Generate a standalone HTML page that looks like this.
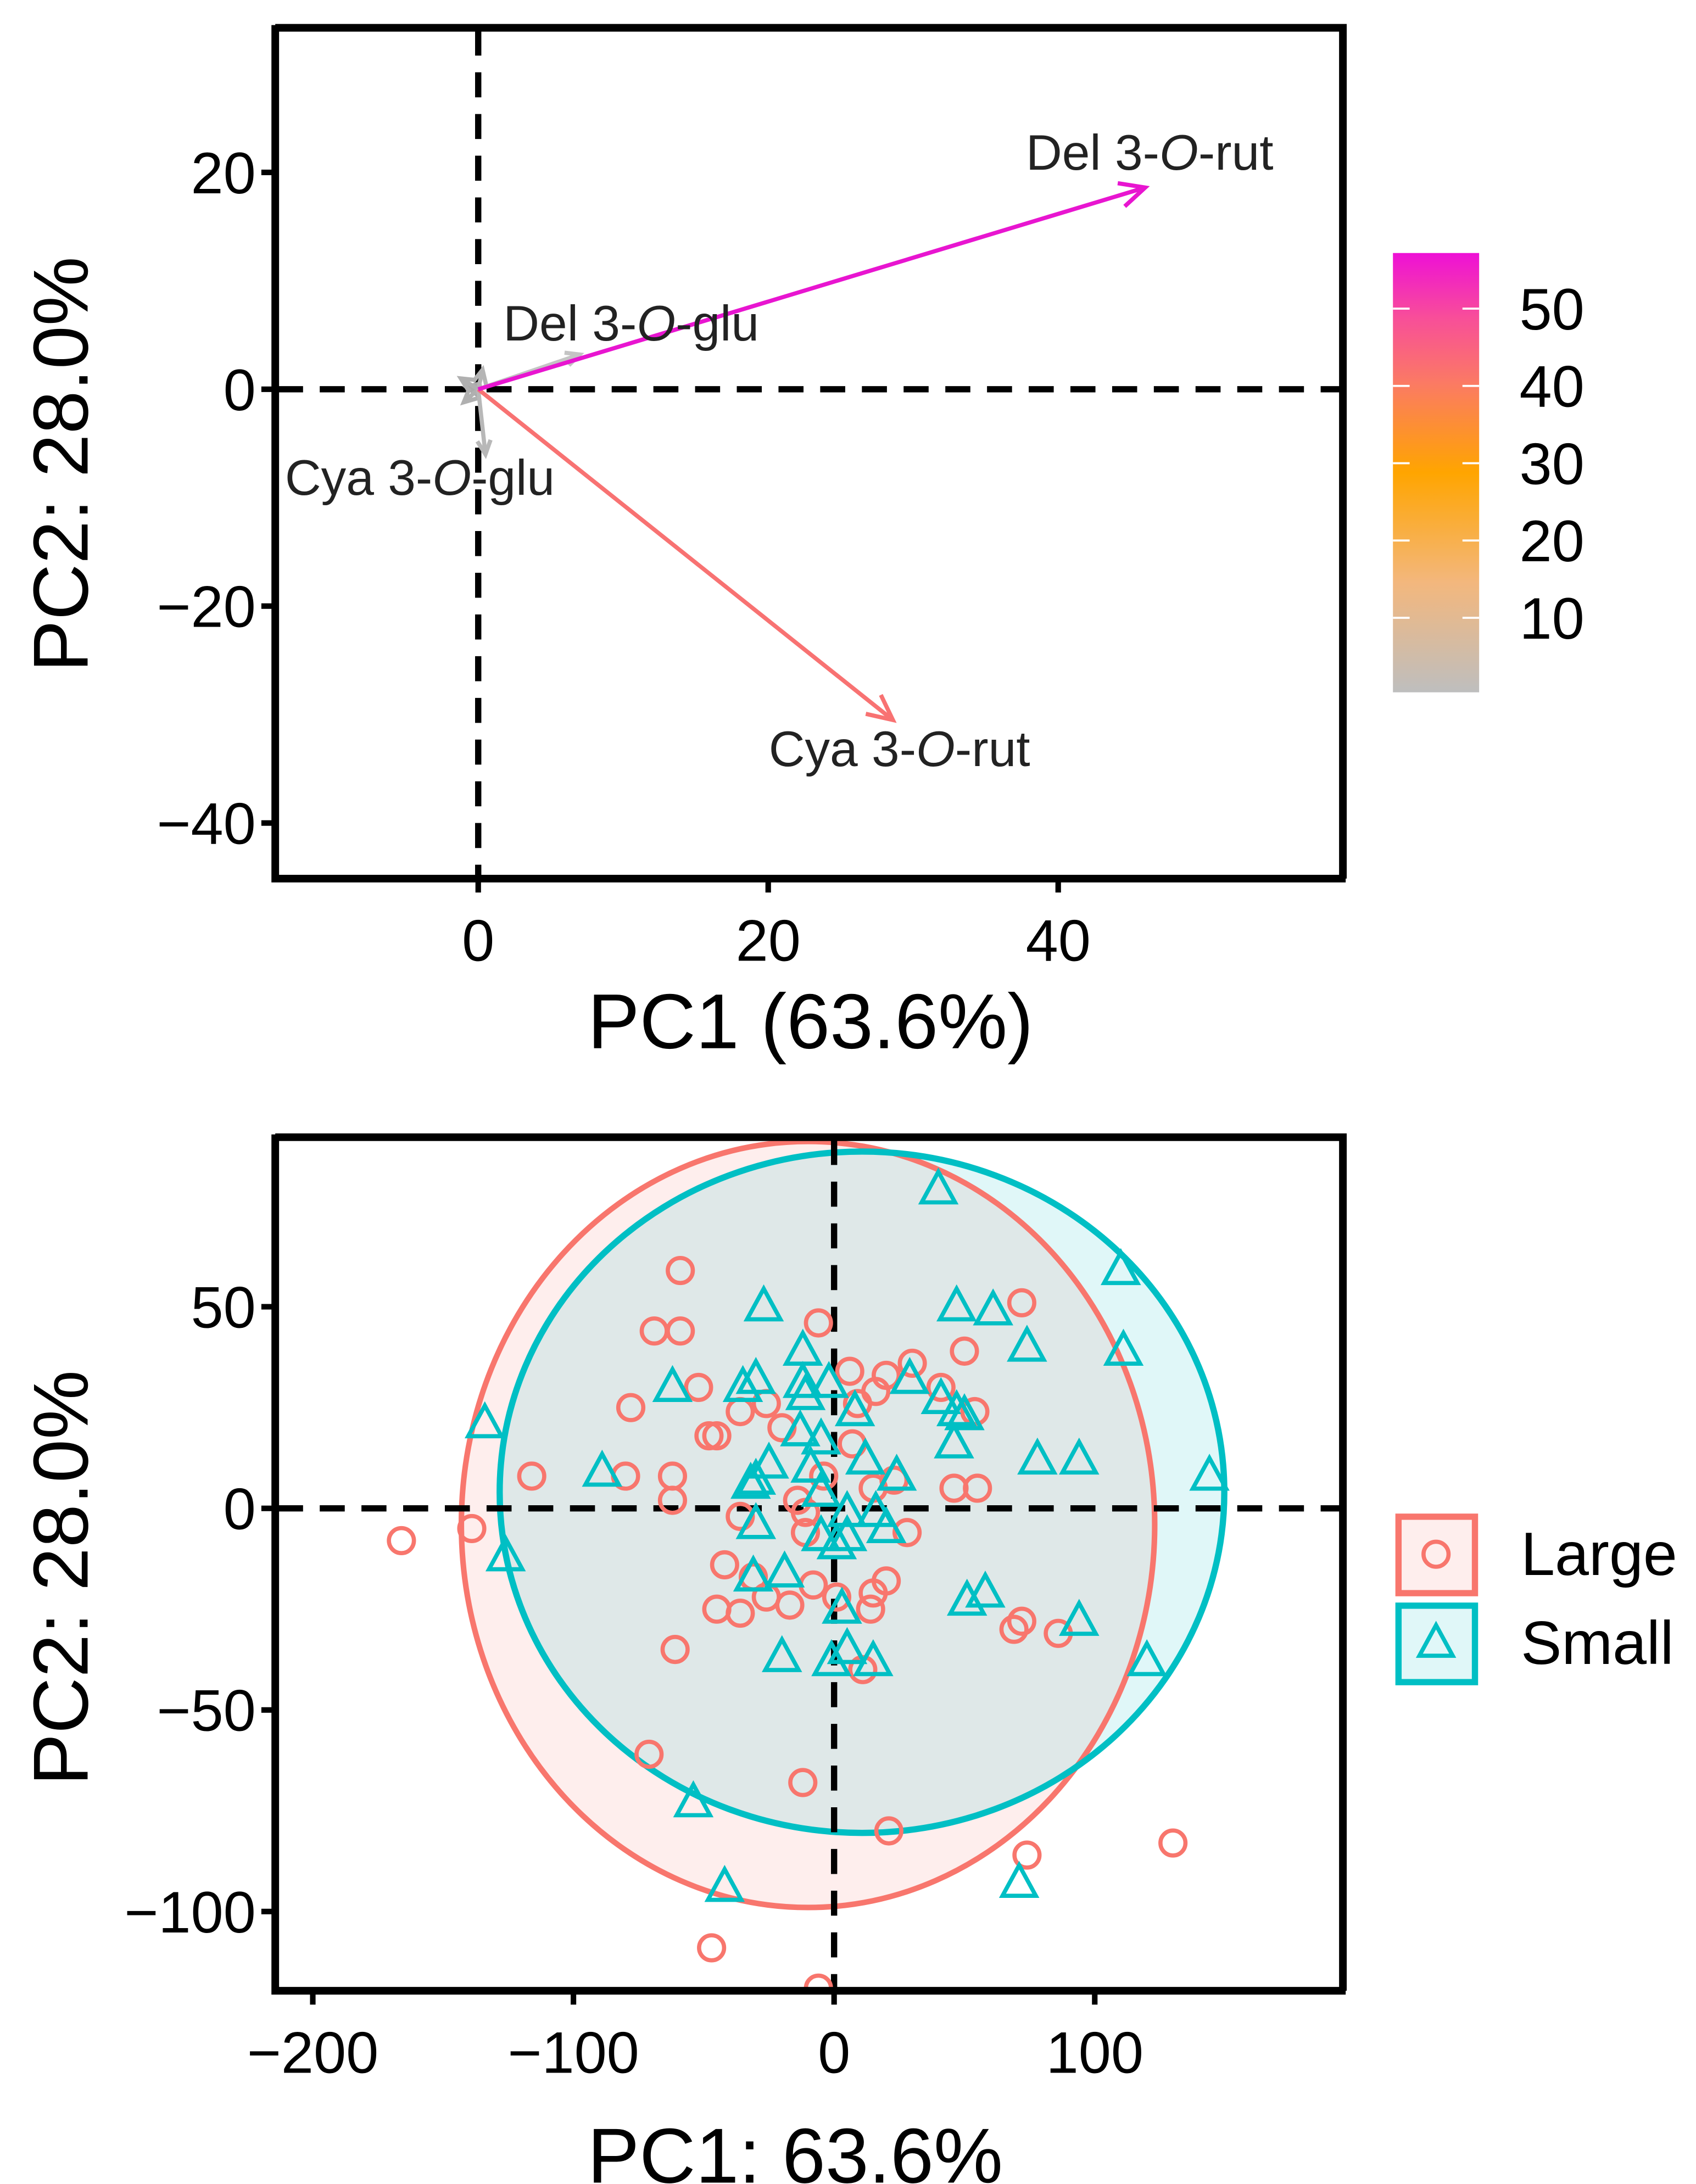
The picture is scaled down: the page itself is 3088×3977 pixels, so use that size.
<!DOCTYPE html>
<html><head><meta charset="utf-8"><style>
html,body{margin:0;padding:0;background:#fff;}
svg{display:block;font-family:"Liberation Sans",Arial,sans-serif;}
</style></head><body>
<svg id="chart" width="3088" height="3977" viewBox="0 0 1220 1571" preserveAspectRatio="none" xmlns="http://www.w3.org/2000/svg">
<defs>
<linearGradient id="cbar" x1="0" y1="1" x2="0" y2="0">
<stop offset="0" stop-color="#bebebe"/>
<stop offset="0.25" stop-color="#f3b77d"/>
<stop offset="0.5" stop-color="#ffa500"/>
<stop offset="0.7" stop-color="#fb7b62"/>
<stop offset="0.85" stop-color="#f84f98"/>
<stop offset="1" stop-color="#ee10d6"/>
</linearGradient>
<clipPath id="clipBot"><rect x="198" y="818" width="770" height="614"/></clipPath>
</defs>
<g id="topPanel"></g>
<g id="botPanel"></g>
</svg>
<script>
// ---- top panel data ----
const varNames = ["Del 3-O-rut","Cya 3-O-rut","Del 3-O-glu","Cya 3-O-glu","minor-1","minor-2","minor-3","minor-4"];
const varPC1 = [46, 28.6, 7, 0.5, -1.2, -1, 0.3, -0.8];
const varPC2 = [18.6, -30.5, 3.2, -6, 1, -1.2, 1.8, 0.2];
const varColor = ["#e815d0","#f87272","#c4c4c4","#b8b8b8","#b0b0b0","#b0b0b0","#b5b5b5","#aaaaaa"];
const topXTicks = [0,20,40];
const topYTicks = [20,0,-20,-40];
const cbarTicks = [10,20,30,40,50];
// ---- bottom panel data ----
const largeX = [-166,-139,-116,-80,-78,-69,-59,-59,-62,-62,-52,-48,-45,-36,-36,-26,-20,-14,-11,-11,-6,-4,6,9,7,15,20,30,16,23,28,41,50,54,46,55,72,-42,-31,-26,-17,-45,-36,-8,1,14,15,20,-61,11,69,72,86,-71,-12,21,74,130,-47,-6];
const largeY = [-8,-5,8,8,25,44,44,59,8,2,30,18,18,-2,24,26,20,2,-1,-6,46,8,34,26,16,5,33,36,29,7,-6,30,39,24,5,5,51,-14,-17,-22,-24,-25,-26,-19,-22,-25,-21,-18,-35,-40,-30,-28,-31,-61,-68,-80,-86,-83,-109,-119];
const smallX = [40,110,111,47,61,74,-27,-12,-62,-30,-35,-12,-11,-2,29,41,47,50,8,-13,-5,46,-25,-32,-30,-9,12,24,78,94,144,-89,-134,-126,-30,-5,5,16,20,-5,1,5,-31,-19,3,51,58,94,-20,-1,5,15,120,-54,-42,71];
const smallY = [79,59,39,50,49,40,50,39,30,32,30,31,28,31,32,27,24,23,24,19,17,16,11,6,7,10,12,8,12,12,8,9,21,-12,-4,4,-1,-1,-5,-7,-9,-7,-17,-16,-25,-23,-21,-28,-37,-38,-35,-38,-38,-73,-94,-93];
const ellipseCX = [-10, 10.7];
const ellipseCY = [-4, 4];
const ellipseRX = [133, 139];
const ellipseRY = [95, 84.5];
const botXTicks = [-200,-100,0,100];
const botYTicks = [50,0,-50,-100];

const NS="http://www.w3.org/2000/svg";
function mk(tag,attrs,parent){const e=document.createElementNS(NS,tag);for(const k in attrs)e.setAttribute(k,attrs[k]);parent.appendChild(e);return e;}
const topG=document.getElementById('topPanel'), botG=document.getElementById('botPanel');

const tx=v=>344+v*10.43, ty=v=>280-v*7.8;
const bx=v=>600+v*1.875, by=v=>1085-v*2.9;
const cbY=v=>500-v*5.56;
const TICK=42, TITLE=56, DASH='18 12', DW=4.5;

let e;
e=mk('line',{x1:344,y1:22,x2:344,y2:630,stroke:'#000','stroke-width':DW,'stroke-dasharray':DASH},topG);


e=mk('line',{x1:200,y1:280,x2:966,y2:280,stroke:'#000','stroke-width':DW,'stroke-dasharray':DASH},topG);


for(let i=varNames.length-1;i>=0;i--){
  const x2=tx(varPC1[i]),y2=ty(varPC2[i]),x1=tx(0),y1=ty(0);
  const g=mk('g',{},topG);
  
  
  mk('line',{x1:x1,y1:y1,x2:x2,y2:y2,stroke:varColor[i],'stroke-width':i<2?3:3},g);
  const a=Math.atan2(y2-y1,x2-x1),L=i<2?20:11,w=0.45;
  mk('polyline',{points:`${x2-L*Math.cos(a-w)},${y2-L*Math.sin(a-w)} ${x2},${y2} ${x2-L*Math.cos(a+w)},${y2-L*Math.sin(a+w)}`,fill:'none',stroke:varColor[i],'stroke-width':3},g);
}
const labPos=[[738,122],[553,551],[362,245],[205,356]];
for(let i=0;i<4;i++){
  const parts=varNames[i].split('O');
  e=mk('text',{x:labPos[i][0],y:labPos[i][1],'font-size':36,fill:'#222'},topG);
  
  
  e.appendChild(document.createTextNode(parts[0]));
  const it=mk('tspan',{'font-style':'italic'},e);it.textContent='O';
  e.appendChild(document.createTextNode(parts[1]));
}
e=mk('path',{d:'M198,18 V632 H968 M198,20 H966 V632',fill:'none',stroke:'#000','stroke-width':5.5},topG);


topXTicks.forEach(v=>{
  mk('line',{x1:tx(v),y1:632,x2:tx(v),y2:642,stroke:'#000','stroke-width':4},topG);
  const t=mk('text',{x:tx(v),y:691,'font-size':TICK,'text-anchor':'middle'},topG);t.textContent=String(v).replace('-','\u2212');
  
  
});
topYTicks.forEach(v=>{
  mk('line',{x1:188,y1:ty(v),x2:198,y2:ty(v),stroke:'#000','stroke-width':4},topG);
  const t=mk('text',{x:184,y:ty(v)+15,'font-size':TICK,'text-anchor':'end'},topG);t.textContent=String(v).replace('-','\u2212');
  
  
});
e=mk('text',{x:583,y:754,'font-size':TITLE,'text-anchor':'middle'},topG);e.textContent='PC1 (63.6%)';


e=mk('text',{x:0,y:0,'font-size':TITLE,'text-anchor':'middle',transform:'translate(63,334) rotate(-90)'},topG);e.textContent='PC2: 28.0%';


e=mk('rect',{x:1002,y:182,width:62,height:316,fill:'url(#cbar)'},topG);


cbarTicks.forEach(v=>{
  mk('line',{x1:1002,y1:cbY(v),x2:1014,y2:cbY(v),stroke:'#fff','stroke-width':1.5},topG);
  mk('line',{x1:1052,y1:cbY(v),x2:1064,y2:cbY(v),stroke:'#fff','stroke-width':1.5},topG);
  const t=mk('text',{x:1093,y:cbY(v)+15,'font-size':TICK},topG);t.textContent=v;
  
  
});

// ---- bottom panel ----
const cols=['#f8766d','#00bfc4'];
const cg=mk('g',{'clip-path':'url(#clipBot)'},botG);
for(let i=0;i<2;i++){
  const el=mk('ellipse',{cx:bx(ellipseCX[i]),cy:by(ellipseCY[i]),rx:ellipseRX[i]*1.875,ry:ellipseRY[i]*2.9,fill:cols[i],'fill-opacity':0.12,stroke:'none'},cg);
  
  
}
for(let i=0;i<2;i++){
  const el=mk('ellipse',{cx:bx(ellipseCX[i]),cy:by(ellipseCY[i]),rx:ellipseRX[i]*1.875,ry:ellipseRY[i]*2.9,fill:'none',stroke:cols[i],'stroke-width':i?4.5:4},cg);
  
  
}
e=mk('line',{x1:600,y1:820,x2:600,y2:1430,stroke:'#000','stroke-width':DW,'stroke-dasharray':DASH},cg);


e=mk('line',{x1:200,y1:1085,x2:966,y2:1085,stroke:'#000','stroke-width':DW,'stroke-dasharray':DASH},cg);


largeX.forEach((v,i)=>{
  const el=mk('circle',{cx:bx(v),cy:by(largeY[i]),r:9,fill:'none',stroke:cols[0],'stroke-width':3},cg);
  
  
});
smallX.forEach((v,i)=>{
  const x=bx(v),y=by(smallY[i]);
  const el=mk('polygon',{points:`${x},${y-13} ${x-12},${y+9} ${x+12},${y+9}`,fill:'none',stroke:cols[1],'stroke-width':3},cg);
  
  
});
e=mk('path',{d:'M198,816 V1432 H968 M198,818 H966 V1432',fill:'none',stroke:'#000','stroke-width':5.5},botG);


botXTicks.forEach(v=>{
  mk('line',{x1:bx(v),y1:1432,x2:bx(v),y2:1442,stroke:'#000','stroke-width':4},botG);
  const t=mk('text',{x:bx(v),y:1491,'font-size':TICK,'text-anchor':'middle'},botG);t.textContent=String(v).replace('-','\u2212');
  
  
});
botYTicks.forEach(v=>{
  mk('line',{x1:188,y1:by(v),x2:198,y2:by(v),stroke:'#000','stroke-width':4},botG);
  const t=mk('text',{x:184,y:by(v)+15,'font-size':TICK,'text-anchor':'end'},botG);t.textContent=String(v).replace('-','\u2212');
  
  
});
e=mk('text',{x:572,y:1570,'font-size':TITLE,'text-anchor':'middle'},botG);e.textContent='PC1: 63.6%';


e=mk('text',{x:0,y:0,'font-size':TITLE,'text-anchor':'middle',transform:'translate(63,1135) rotate(-90)'},botG);e.textContent='PC2: 28.0%';


const legNames=['Large','Small'];
for(let i=0;i<2;i++){
  const y0=1091+i*64;
  const g=mk('g',{},botG);
  
  
  mk('rect',{x:1006,y:y0,width:55,height:55,fill:cols[i],'fill-opacity':0.12,stroke:cols[i],'stroke-width':4.5},g);
  const lx=1033,ly=y0+27;
  if(i==0) mk('circle',{cx:lx,cy:ly,r:9,fill:'none',stroke:cols[0],'stroke-width':3},g);
  else mk('polygon',{points:`${lx},${ly-13} ${lx-12},${ly+9} ${lx+12},${ly+9}`,fill:'none',stroke:cols[1],'stroke-width':3},g);
  const t=mk('text',{x:1094,y:ly+15,'font-size':44},g);t.textContent=legNames[i];
}
</script>
</body></html>
